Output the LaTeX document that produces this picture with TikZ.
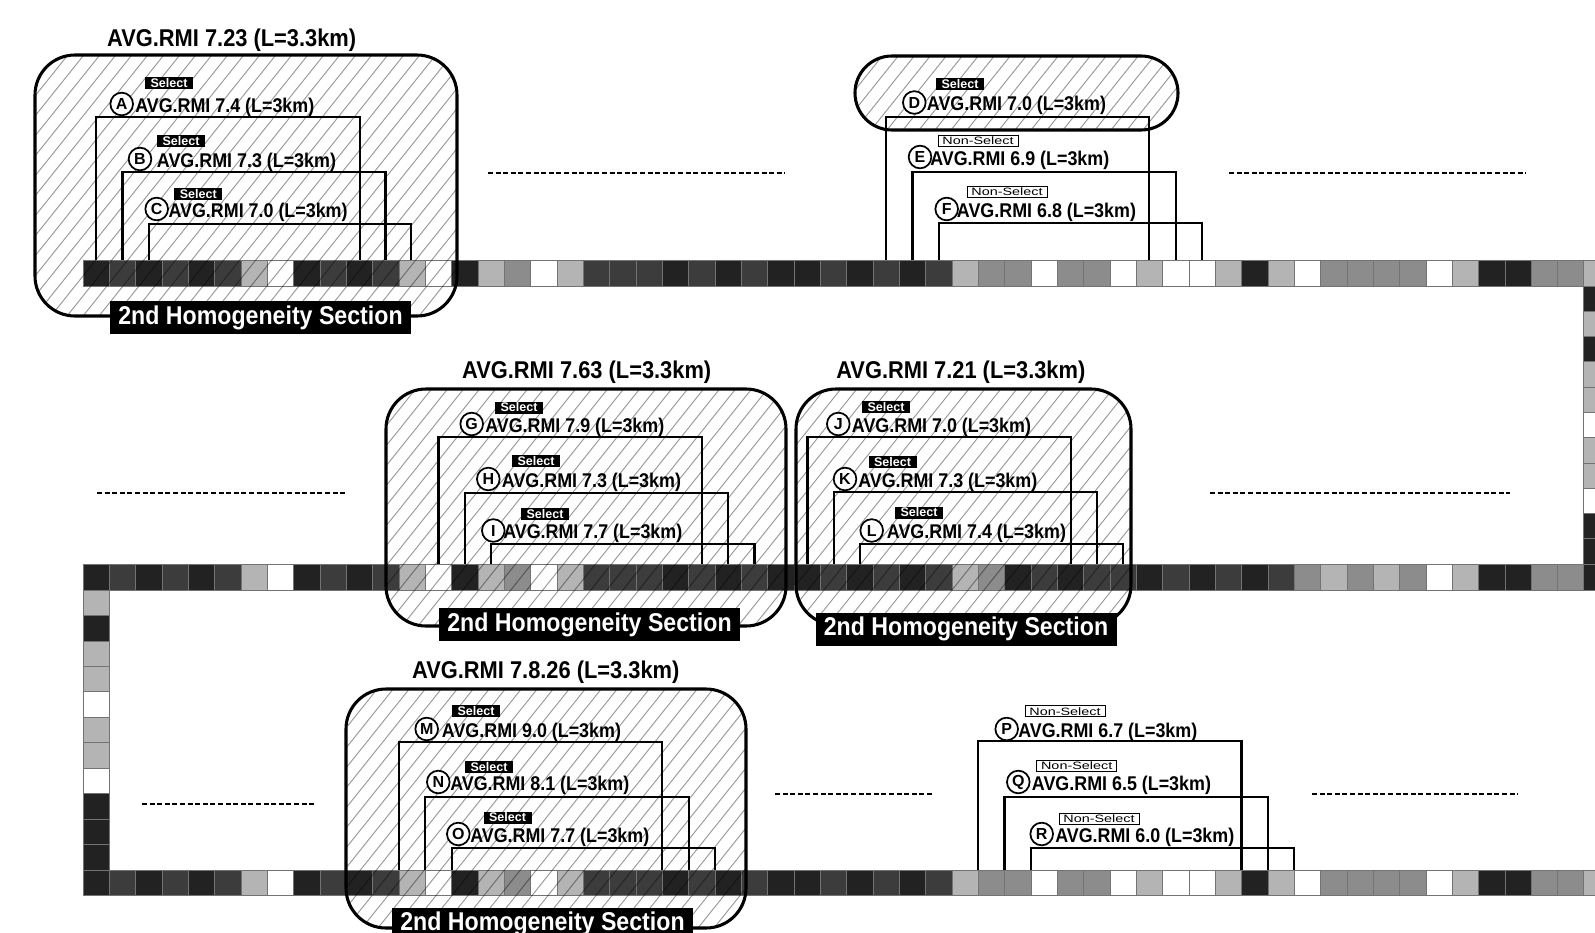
\documentclass[tikz,border=0pt]{standalone}
\usepackage{fontspec}
\usepackage{graphicx}
\newfontfamily\cf{Liberation Sans}[FakeStretch=0.9]
\newfontfamily\tagf{Liberation Sans}
\definecolor{cK}{HTML}{222222}
\definecolor{cD}{HTML}{3C3C3C}
\definecolor{cM}{HTML}{8C8C8C}
\definecolor{cL}{HTML}{B4B4B4}
\definecolor{cW}{HTML}{FFFFFF}
\definecolor{hatchc}{HTML}{9A9A9A}
\def\txtseltag{Select}
\def\txtnontag{\scalebox{1.35}[1]{Non-Select}}
\newcommand\rmiitem[9]{%
  \node[circ] (c#1) at (#3,{#5-8}) {#2};
  \node[itxt] (t#1) at (#4,#5) {AVG.RMI #6 (L=3km)};
  \node[#9] (s#1) at (#7,#8) {\csname txt#9\endcsname};
}
\newcommand\rmibx[4]{\draw[rmibox] (#1,#4) |- (#2,#3) -- (#2,#4);}
\newcommand\hatchgrp[5]{%
  \begin{scope}
    \clip[rounded corners=#5] (#1,#2) rectangle (#3,#4);
    \foreach \k in {-320,-304,...,480}
      \draw[hatchln] ({#1+\k},#4) -- ({#1+\k+0.8*(#4-#2)},#2);
  \end{scope}}
\tikzset{
  cell/.style={draw=black!55, line width=0.5pt},
  hatchln/.style={draw=hatchc, line width=0.7pt},
  grpbox/.style={draw=black, line width=2.3pt, rounded corners=30pt},
  rmibox/.style={draw=black, line width=1.7pt},
  seltag/.style={fill=black, text=white, font=\tagf\bfseries\fontsize{9.4}{9.4}\selectfont, minimum width=36pt, minimum height=9pt, inner sep=0pt},
  nontag/.style={fill=white, draw=black, line width=0.6pt, font=\tagf\fontsize{8}{8}\selectfont, minimum width=60pt, minimum height=8.25pt, inner sep=0pt},
  circ/.style={circle, draw, fill=white, line width=1.3pt, minimum size=17pt, inner sep=0pt, font=\tagf\bfseries\fontsize{12}{12}\selectfont},
  itxt/.style={anchor=base west, inner sep=0pt, font=\cf\bfseries\fontsize{14.9}{14.9}\selectfont},
  ttl/.style={anchor=base, inner sep=0pt, font=\cf\bfseries\fontsize{18.2}{18.2}\selectfont},
  homog/.style={fill=black, text=white, font=\cf\bfseries\fontsize{19.3}{19.3}\selectfont, inner sep=0pt, minimum width=225.75pt, minimum height=24.75pt},
  dashln/.style={line width=1.6pt, dash pattern=on 3.8pt off 1.9pt},
}
\begin{document}
\begin{tikzpicture}[x=0.75pt,y=-0.75pt]
\useasboundingbox (0,0) rectangle (1595,932);
\fill[white] (0,0) rectangle (1595,932);
\clip (0,0) rectangle (1595,932);
% ---------- strips ----------
\def\w{26.33}
% top strip
\foreach \c [count=\i from 0] in {K,D,K,D,K,D,L,W,K,D,K,D,L,W,K,L,M,W,L,D,D,D,K,D,K,D,K,K,D,K,D,K,D,L,M,M,W,M,M,W,L,W,W,L,K,L,W,M,M,M,M,W,L,K,K,M,M,L}
  \path[cell, fill=c\c] ({83+\w*\i},260) rectangle ++(\w,26);
% right vertical
\foreach \c [count=\i from 0] in {K,L,K,L,L,W,L,L,W,K,K}
  \path[cell, fill=c\c] ({83+\w*57},{286+25.27*\i}) rectangle ++(\w,25.27);
% middle strip
\foreach \c [count=\i from 0] in {K,D,K,D,K,D,L,W,K,D,K,D,L,W,K,L,M,W,L,D,D,D,K,D,K,D,K,K,D,K,D,K,D,L,M,K,D,K,D,D,K,D,K,D,K,D,M,L,M,L,M,W,L,K,K,M,M,K}
  \path[cell, fill=c\c] ({83+\w*\i},564) rectangle ++(\w,26);
% left vertical
\foreach \c [count=\i from 0] in {L,K,L,L,W,L,L,W,K,K,K}
  \path[cell, fill=c\c] (83,{590+25.45*\i}) rectangle ++(\w,25.45);
% bottom strip
\foreach \c [count=\i from 0] in {K,D,K,D,K,D,L,W,K,D,K,D,L,W,K,L,M,W,L,D,D,D,K,D,K,D,K,K,D,K,D,K,D,L,M,M,W,M,M,W,L,W,W,L,K,L,W,M,M,M,M,W,L,K,K,M,M,L}
  \path[cell, fill=c\c] ({83+\w*\i},870) rectangle ++(\w,25.5);
% ---------- hatching ----------
\begin{scope}[blend mode=multiply]
  \hatchgrp{35}{55}{457}{316}{30pt}
  \hatchgrp{855}{56}{1178}{130}{27.7pt}
  \hatchgrp{386}{389}{786}{626}{30pt}
  \hatchgrp{796}{389}{1131}{625}{30pt}
  \hatchgrp{346}{689}{746}{928}{30pt}
\end{scope}
% ---------- group outlines ----------
\draw[grpbox] (35,55) rectangle (457,316);
\draw[grpbox, rounded corners=27.7pt] (855,56) rectangle (1178,130);
\draw[grpbox] (386,389) rectangle (786,626);
\draw[grpbox] (796,389) rectangle (1131,625);
\draw[grpbox] (346,689) rectangle (746,928);
% ---------- RMI boxes ----------
\rmibx{96}{360}{116.7}{260}
\rmibx{122.5}{385.5}{172.3}{260}
\rmibx{148.8}{411.3}{224}{260}
\rmibx{886}{1149.3}{116.7}{260}
\rmibx{912.4}{1175.7}{172.3}{260}
\rmibx{938.7}{1202}{223.3}{260}
\rmibx{438.6}{701.9}{436.7}{564}
\rmibx{464.9}{728.2}{492.7}{564}
\rmibx{491.2}{754.5}{544}{564}
\rmibx{807.4}{1070.7}{436.7}{564}
\rmibx{833.7}{1097}{492.3}{564}
\rmibx{860}{1123.3}{544}{564}
\rmibx{399}{662.3}{741.7}{870}
\rmibx{425.3}{688.7}{796.7}{870}
\rmibx{451.7}{715}{848.3}{870}
\rmibx{978.2}{1241.5}{741}{870}
\rmibx{1004.5}{1267.8}{796.7}{870}
\rmibx{1030.8}{1294.2}{848.3}{870}
% ---------- items ----------
\rmiitem{A}{A}{121.7}{135}{112}{7.4}{169}{83.3}{seltag}
\rmiitem{B}{B}{140}{156.7}{167}{7.3}{181}{141}{seltag}
\rmiitem{C}{C}{156.7}{168.3}{217}{7.0}{198.3}{194}{seltag}
\rmiitem{D}{D}{914.3}{926.7}{110.5}{7.0}{960}{83.8}{seltag}
\rmiitem{E}{E}{920}{930}{165}{6.9}{978}{140.5}{nontag}
\rmiitem{F}{F}{946.7}{956.7}{217}{6.8}{1007}{191.7}{nontag}
\rmiitem{G}{G}{471.7}{485}{432}{7.9}{519}{407.5}{seltag}
\rmiitem{H}{H}{488.3}{501.7}{487}{7.3}{536}{461}{seltag}
\rmiitem{I}{I}{493.3}{503}{538.5}{7.7}{545}{514}{seltag}
\rmiitem{J}{J}{838.3}{851.7}{432}{7.0}{886}{406.7}{seltag}
\rmiitem{K}{K}{845}{858}{487}{7.3}{892.5}{461.7}{seltag}
\rmiitem{L}{L}{871.7}{886.7}{538.5}{7.4}{919}{512.5}{seltag}
\rmiitem{M}{M}{426.7}{441.7}{737}{9.0}{476}{711}{seltag}
\rmiitem{N}{N}{438.3}{450}{790}{8.1}{489}{766.7}{seltag}
\rmiitem{O}{O}{458.3}{470}{842}{7.7}{507.5}{817.5}{seltag}
\rmiitem{P}{P}{1006.7}{1018}{737}{6.7}{1065}{711.3}{nontag}
\rmiitem{Q}{Q}{1018.3}{1031.7}{790}{6.5}{1076.7}{765.8}{nontag}
\rmiitem{R}{R}{1041.7}{1055}{842}{6.0}{1099}{818.5}{nontag}
% ---------- titles ----------
\node[ttl] (ttl1) at (231.7,46.7) {AVG.RMI 7.23 (L=3.3km)};
\node[ttl] (ttl3) at (586.7,378) {AVG.RMI 7.63 (L=3.3km)};
\node[ttl] (ttl4) at (960.8,378) {AVG.RMI 7.21 (L=3.3km)};
\node[ttl] (ttl5) at (545.8,678) {AVG.RMI 7.8.26 (L=3.3km)};
% ---------- homogeneity labels ----------
\node[homog] (h1) at (260.5,317.5) {2nd Homogeneity Section};
\node[homog] (h3) at (589.5,624.5) {2nd Homogeneity Section};
\node[homog] (h4) at (966,629) {2nd Homogeneity Section};
\node[homog] (h5) at (542.5,924) {2nd Homogeneity Section};
% ---------- dashed lines ----------
\draw[dashln] (488,173) -- (785,173);
\draw[dashln] (1229,173) -- (1526,173);
\draw[dashln] (97,493) -- (346,493);
\draw[dashln] (1210,493) -- (1510,493);
\draw[dashln] (142,804) -- (315,804);
\draw[dashln] (775,794) -- (934,794);
\draw[dashln] (1312,794) -- (1518,794);
\end{tikzpicture}
\end{document}
